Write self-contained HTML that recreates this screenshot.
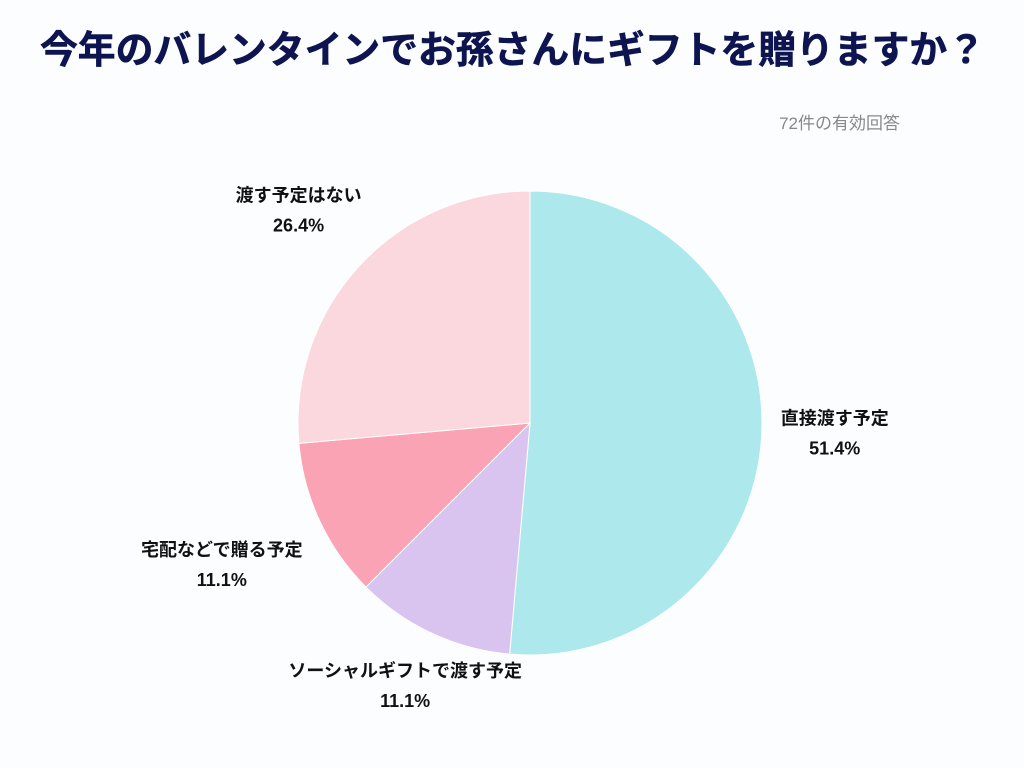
<!DOCTYPE html>
<html><head><meta charset="utf-8"><style>
body{margin:0;background:#fbfdfe;}
svg{display:block;font-family:"Liberation Sans","Noto Sans CJK JP",sans-serif;}
</style></head><body>
<svg width="1024" height="768" viewBox="0 0 1024 768">
<rect width="1024" height="768" fill="#fbfdfe"/>
<text x="40" y="63" font-size="38" font-weight="bold" fill="#0d1450" stroke="#0d1450" stroke-width="0.6" textLength="945" lengthAdjust="spacingAndGlyphs">今年のバレンタインでお孫さんにギフトを贈りますか？</text>
<text x="900" y="129" font-size="17" fill="#888" text-anchor="end">72件の有効回答</text>
<g id="slices"></g>
<g id="labels"></g>
</svg>
<script>
const categories=["直接渡す予定","ソーシャルギフトで渡す予定","宅配などで贈る予定","渡す予定はない"];
const values=[51.4,11.1,11.1,26.4];
const valueLabels=["51.4%","11.1%","11.1%","26.4%"];
const colors=["#ade8ec","#d9c3ef","#f9a3b4","#fad8de"];
const labelDx=[-2,5,-30,-5];
const labelDy=[-9,-21,6,-11];
const cx=530,cy=423,r=232;
const total=values.reduce((a,b)=>a+b,0);
const ns="http://www.w3.org/2000/svg";
const gS=document.getElementById('slices'),gL=document.getElementById('labels');
function pt(a,rr){return [cx+rr*Math.sin(a),cy-rr*Math.cos(a)];}
let acc=0;
values.forEach((v,i)=>{
  const a0=acc/total*2*Math.PI; acc+=v; const a1=acc/total*2*Math.PI;
  const p0=pt(a0,r),p1=pt(a1,r);
  const path=document.createElementNS(ns,'path');
  path.setAttribute('d',`M${cx},${cy}L${p0[0]},${p0[1]}A${r},${r} 0 ${a1-a0>Math.PI?1:0} 1 ${p1[0]},${p1[1]}Z`);
  path.setAttribute('fill',colors[i]);
  path.setAttribute('stroke','#fff');
  path.setAttribute('stroke-width','1');
  
  
  gS.appendChild(path);
  const am=(a0+a1)/2;
  const lp=pt(am,r+75);
  const x=lp[0]+labelDx[i], y=lp[1]+labelDy[i];
  const t=document.createElementNS(ns,'text');
  t.setAttribute('x',x);t.setAttribute('y',y-3);
  t.setAttribute('text-anchor','middle');t.setAttribute('font-size','18');
  t.setAttribute('font-weight','bold');t.setAttribute('fill','#111');
  
  
  t.textContent=categories[i];
  gL.appendChild(t);
  const t2=document.createElementNS(ns,'text');
  t2.setAttribute('x',x);t2.setAttribute('y',y+27);
  t2.setAttribute('text-anchor','middle');t2.setAttribute('font-size','18');
  t2.setAttribute('font-weight','bold');t2.setAttribute('fill','#111');
  
  
  t2.textContent=valueLabels[i];
  gL.appendChild(t2);
});
</script>
</body></html>
